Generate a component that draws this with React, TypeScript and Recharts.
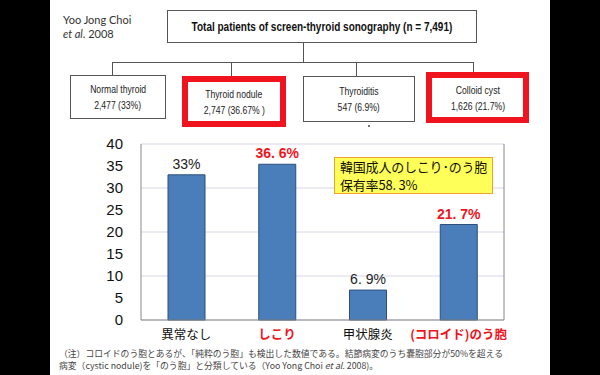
import React from 'react';
import {
  BarChart,
  Bar,
  XAxis,
  YAxis,
  CartesianGrid,
} from 'recharts';

const categories = ['異常なし', 'しこり', '甲状腺炎', '(コロイド)のう胞'];
const values = [33, 35.4, 6.8, 21.7];
const valueLabels = ['33%', '36. 6%', '6. 9%', '21. 7%'];
const highlighted = [false, true, false, true];
const yTicks = [0, 5, 10, 15, 20, 25, 30, 35, 40];
const boundaryTicks = [0, 1, 2, 3, 4];

const boxNames = ['Normal thyroid', 'Thyroid nodule', 'Thyroiditis', 'Colloid cyst'];
const boxCounts = ['2,477 (33%)', '2,747 (36.67% )', '547 (6.9%)', '1,626 (21.7%)'];

const RED = '#f0141e';
const JP = '"Noto Sans CJK JP", "Noto Sans", sans-serif';
const SANS = '"Liberation Sans", Arial, sans-serif';

const chartData = categories.map((name, i) => ({ name, value: values[i] }));

function CategoryTick(props: any) {
  const { x, y, payload } = props;
  const i = categories.indexOf(payload.value);
  const hot = highlighted[i];
  return (
    <text
      x={x}
      y={y + 11}
      textAnchor="middle"
      fontFamily={JP}
      fontSize={12.5}
      fontWeight={hot ? 700 : 400}
      fill={hot ? RED : '#111'}
    >
      {payload.value}
    </text>
  );
}

function ValueLabel(props: any) {
  const { x, y, width, index } = props;
  const hot = highlighted[index];
  return (
    <text
      x={x + width / 2}
      y={y - 6}
      textAnchor="middle"
      fontFamily={SANS}
      fontSize={14}
      fontWeight={hot ? 700 : 400}
      fill={hot ? RED : '#222'}
    >
      {valueLabels[index]}
    </text>
  );
}

// narrow-looking text: no condensed font installed, so squeeze it
const squeeze = (text: React.ReactNode, k: number) => (
  <span style={{ display: 'inline-block', whiteSpace: 'nowrap', transform: `scaleX(${k})` }}>{text}</span>
);

// outlined box in the flow diagram
function FlowBox({ left, top, width, height, i, red }: any) {
  return (
    <div
      style={{
        position: 'absolute',
        left,
        top,
        width,
        height,
        boxSizing: 'border-box',
        border: red ? `6px solid ${RED}` : '1px solid #555',
        background: '#fff',
        display: 'flex',
        flexDirection: 'column',
        alignItems: 'center',
        justifyContent: 'center',
        fontFamily: SANS,
        fontSize: 10.5,
        color: '#222',
        lineHeight: '16px',
      }}
    >
      <div>{squeeze(boxNames[i], 0.82)}</div>
      <div>{squeeze(boxCounts[i], 0.82)}</div>
    </div>
  );
}

const line = (left: number, top: number, width: number, height: number) => (
  <div style={{ position: 'absolute', left, top, width, height, background: '#555' }} />
);

export default function App() {
  return (
    <div
      style={{
        position: 'absolute',
        left: 0,
        top: 0,
        width: 600,
        height: 375,
        background: '#000',
        overflow: 'hidden',
      }}
    >
      <div style={{ position: 'absolute', left: 50, top: 0, width: 500, height: 375, background: '#fff' }} />

      <div style={{ position: 'absolute', left: 0, top: 0 }}>
        <BarChart
          width={600}
          height={375}
          data={chartData}
          margin={{ top: 144, right: 95, bottom: 25, left: 101 }}
        >
          <CartesianGrid yAxisId="l" xAxisId="c" vertical={false} stroke="#d6d4ea" />
          <XAxis
            xAxisId="b"
            type="number"
            domain={[0, 4]}
            ticks={boundaryTicks}
            height={0}
            axisLine={false}
            tick={false}
            tickSize={-4}
            tickLine={{ stroke: '#999' }}
          />
          <XAxis
            xAxisId="c"
            dataKey="name"
            height={30}
            axisLine={{ stroke: '#888' }}
            tickLine={false}
            tick={<CategoryTick />}
            interval={0}
          />
          <YAxis
            yAxisId="l"
            domain={[0, 40]}
            ticks={yTicks}
            width={40}
            axisLine={{ stroke: '#888' }}
            tickLine={false}
            tickMargin={12}
            tick={{ fill: '#111', fontSize: 15, fontFamily: SANS }}
          />
          <YAxis
            yAxisId="r"
            orientation="right"
            domain={[0, 40]}
            width={1}
            axisLine={{ stroke: '#888' }}
            tickLine={false}
            tick={false}
          />
          <Bar
            xAxisId="c"
            yAxisId="l"
            dataKey="value"
            fill="#4a7ebb"
            stroke="#2d4f7a"
            strokeWidth={1}
            barSize={37}
            label={<ValueLabel />}
            isAnimationActive={false}
          />
        </BarChart>
      </div>

      {/* source note */}
      <div
        style={{
          position: 'absolute',
          left: 63,
          top: 13,
          fontFamily: 'Lato, "Open Sans", sans-serif',
          fontSize: 11,
          lineHeight: '14px',
          color: '#333',
        }}
      >
        <div>Yoo Jong Choi</div>
        <div>
          <i>et al</i>. 2008
        </div>
      </div>

      {/* flow diagram */}
      <div
        style={{
          position: 'absolute',
          left: 167,
          top: 10,
          width: 310,
          height: 33,
          boxSizing: 'border-box',
          border: '1px solid #555',
          display: 'flex',
          alignItems: 'center',
          justifyContent: 'center',
          fontFamily: SANS,
          fontWeight: 700,
          fontSize: 12.5,
          color: '#111',
        }}
      >
        {squeeze('Total patients of screen-thyroid sonography (n = 7,491)', 0.8)}
      </div>
      {line(303, 43, 1, 19)}
      {line(112, 62, 362, 1)}
      {line(112, 62, 1, 13)}
      {line(231, 62, 1, 14)}
      {line(356, 62, 1, 14)}
      {line(473, 62, 1, 10)}
      <FlowBox left={70} top={75} width={96} height={44} i={0} />
      <FlowBox left={182} top={76} width={104} height={51} i={1} red />
      <FlowBox left={303} top={76} width={112} height={46} i={2} />
      <FlowBox left={426} top={72} width={103} height={51} i={3} red />
      <div style={{ position: 'absolute', left: 368, top: 125, width: 2, height: 2, background: '#777' }} />

      {/* highlight note */}
      <div
        style={{
          position: 'absolute',
          left: 334,
          top: 157,
          width: 159,
          height: 37,
          boxSizing: 'border-box',
          background: '#ffff5a',
          border: '1px solid #f0a030',
          fontFamily: JP,
          fontSize: 13,
          lineHeight: '18px',
          color: '#111',
          padding: '0 0 0 5px',
          whiteSpace: 'nowrap',
          letterSpacing: -0.2,
        }}
      >
        <div>韓国成人のしこり･のう胞</div>
        <div>保有率58. 3%</div>
      </div>

      {/* footnote */}
      <div
        style={{
          position: 'absolute',
          left: 59,
          top: 348,
          fontFamily: JP,
          fontSize: 8.8,
          lineHeight: '12px',
          color: '#444',
          whiteSpace: 'nowrap',
        }}
      >
        <div>（注）コロイドのう胞とあるが、「純粋のう胞」も検出した数値である。結節病変のうち嚢胞部分が50%を超える</div>
        <div>
          病変（cystic nodule)を「のう胞」と分類している（Yoo Yong Choi <i>et al.</i> 2008)。
        </div>
      </div>
    </div>
  );
}
